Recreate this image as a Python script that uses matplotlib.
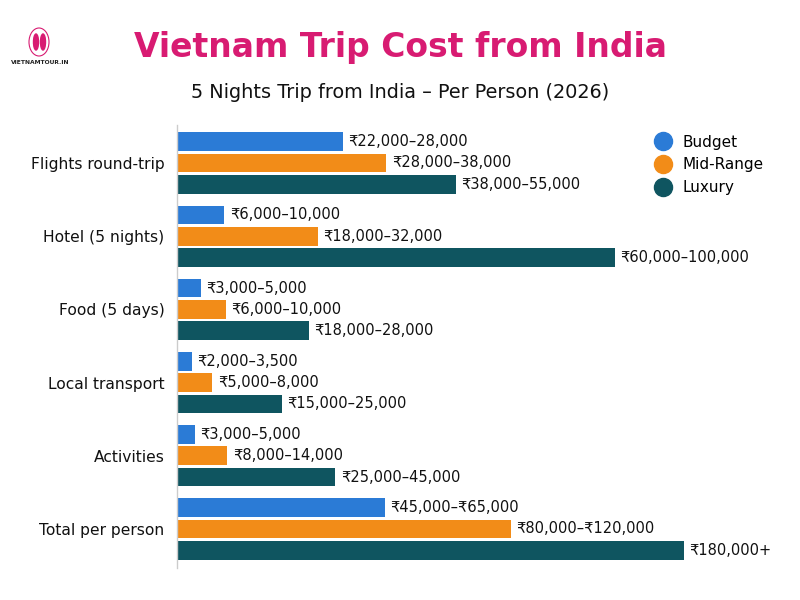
import matplotlib
matplotlib.use("Agg")
import matplotlib.pyplot as plt
from matplotlib.lines import Line2D
from matplotlib.patches import Ellipse
import numpy as np

plt.rcParams['font.family'] = ['DejaVu Sans']

# categories and series (bar lengths in thousand INR as drawn in the chart)
categories = ["Flights round-trip", "Hotel (5 nights)", "Food (5 days)",
              "Local transport", "Activities", "Total per person"]
series_names = ["Budget", "Mid-Range", "Luxury"]
budget = [22.1, 6.3, 3.2, 2.0, 2.4, 27.7]
mid_range = [27.9, 18.8, 6.5, 4.7, 6.7, 44.5]
luxury = [37.2, 58.4, 17.6, 14.0, 21.1, 67.6]

budget_labels = ["₹22,000–28,000", "₹6,000–10,000", "₹3,000–5,000",
                 "₹2,000–3,500", "₹3,000–5,000", "₹45,000–₹65,000"]
mid_labels = ["₹28,000–38,000", "₹18,000–32,000", "₹6,000–10,000",
              "₹5,000–8,000", "₹8,000–14,000", "₹80,000–₹120,000"]
luxury_labels = ["₹38,000–55,000", "₹60,000–100,000", "₹18,000–28,000",
                 "₹15,000–25,000", "₹25,000–45,000", "₹180,000+"]

colors = ["#2B7BD6", "#F28C18", "#0F5560"]
pink = "#D81B72"

fig = plt.figure(figsize=(8, 6), dpi=100)
ax = fig.add_axes([177 / 800, 1 - 568 / 600, (790 - 177) / 800, (568 - 125) / 600])

y = np.arange(len(categories))
off = 0.291
h = 0.255
all_vals = [budget, mid_range, luxury]
all_labels = [budget_labels, mid_labels, luxury_labels]
for k in range(3):
    bars = ax.barh(y + (k - 1) * off, all_vals[k], height=h, color=colors[k],
                   label=series_names[k])
    ax.bar_label(bars, labels=all_labels[k], padding=4, fontsize=10.5, color="#111111")

ax.set_xlim(0, (790 - 177) / 7.5)
ax.set_ylim(5.533, -0.519)
ax.set_yticks(y)
ax.set_yticklabels(categories, fontsize=11.2, color="#111111")
ax.tick_params(axis="y", length=0, pad=9)
ax.set_xticks([])
for s in ["top", "right", "bottom"]:
    ax.spines[s].set_visible(False)
ax.spines["left"].set_color("#cccccc")
ax.spines["left"].set_linewidth(1)

handles = [Line2D([0], [0], marker="o", linestyle="", markersize=13,
                  markerfacecolor=c, markeredgecolor=c) for c in colors]
fig.legend(handles, series_names, loc="upper left",
           bbox_to_anchor=(640 / 800, 1 - 127 / 600), frameon=False,
           fontsize=11, handletextpad=0.3, labelspacing=0.5, borderpad=0)

# titles
fig.text(0.5, 1 - 48 / 600, "Vietnam Trip Cost from India", ha="center", va="center",
         fontsize=23.8, fontweight="bold", color=pink)
fig.text(0.5, 1 - 92 / 600, "5 Nights Trip from India – Per Person (2026)",
         ha="center", va="center", fontsize=13.9, color="#111111")

# logo
fig.patches.append(Ellipse((39 / 800, 1 - 42 / 600), 20 / 800, 28 / 600,
                           transform=fig.transFigure, fill=False,
                           edgecolor=pink, linewidth=0.8))
fig.patches.append(Ellipse((36 / 800, 1 - 42 / 600), 5 / 800, 16 / 600,
                           transform=fig.transFigure, color=pink))
fig.patches.append(Ellipse((43 / 800, 1 - 42 / 600), 5 / 800, 16 / 600,
                           transform=fig.transFigure, color=pink))
fig.text(40 / 800, 1 - 63 / 600, "VIETNAMTOUR.IN", ha="center", va="center",
         fontsize=4.3, fontweight="bold", color="#222222")

fig.savefig("out.png", dpi=100)
